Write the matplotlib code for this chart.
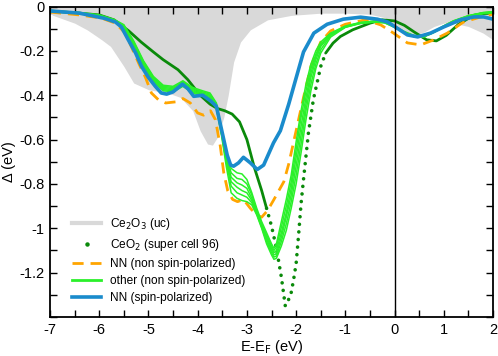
import matplotlib
matplotlib.use('Agg')
import matplotlib.pyplot as plt
from matplotlib.lines import Line2D
from matplotlib.ticker import MultipleLocator, FuncFormatter

plt.rcParams['font.family'] = ['Liberation Sans', 'DejaVu Sans']
plt.rcParams['axes.unicode_minus'] = False

# Ce2O3 (uc) - grey filled area
gray_x = [-7.0, -6.94, -6.5, -6.24, -5.95, -5.77, -5.5, -5.3, -5.0, -4.6, -4.35, -4.1, -3.95,
          -3.8, -3.7, -3.6, -3.47, -3.38, -3.27, -3.13, -2.93, -2.58, -2.1, -1.5, -1.0, -0.5,
          -0.2, 0.0, 0.2, 0.4, 0.6, 0.8, 1.0, 1.2, 1.5, 1.8, 2.0]
gray_y = [-0.03, -0.04, -0.075, -0.106, -0.15, -0.18, -0.27, -0.345, -0.375, -0.39, -0.41, -0.47,
          -0.56, -0.62, -0.625, -0.59, -0.50, -0.40, -0.25, -0.16, -0.105, -0.06, -0.04, -0.03,
          -0.03, -0.035, -0.05, -0.085, -0.115, -0.13, -0.115, -0.09, -0.075, -0.075, -0.09,
          -0.12, -0.15]

# CeO2 (super cell 96)
ce_x = [-7.0, -6.4, -6.0, -5.7, -5.4, -5.15, -4.9, -4.7, -4.4, -4.2, -3.95, -3.75, -3.6, -3.45,
        -3.3, -3.15, -3.0, -2.85, -2.7, -2.6, -2.5, -2.4, -2.3, -2.22, -2.15, -2.1, -2.05, -2.0,
        -1.95, -1.9, -1.85, -1.75, -1.65, -1.5, -1.4, -1.25, -1.1, -0.85, -0.5, -0.25, 0.0, 0.2,
        0.4, 0.65, 0.85, 1.05, 1.3, 1.6, 1.8, 2.0]
ce_y = [-0.02, -0.03, -0.038, -0.06, -0.11, -0.16, -0.205, -0.24, -0.285, -0.33, -0.40, -0.44,
        -0.46, -0.47, -0.485, -0.52, -0.60, -0.725, -0.83, -0.91, -0.99, -1.09, -1.22, -1.35,
        -1.32, -1.29, -1.23, -1.16, -1.03, -0.89, -0.78, -0.57, -0.42, -0.27, -0.21, -0.165,
        -0.135, -0.105, -0.075, -0.06, -0.065, -0.085, -0.115, -0.15, -0.155, -0.13, -0.08,
        -0.04, -0.032, -0.03]

# NN (non spin-polarized)
nn_x = [-7.0, -6.4, -5.96, -5.67, -5.47, -5.35, -5.2, -5.06, -4.94, -4.8, -4.65, -4.45, -4.3,
        -4.15, -4.0, -3.88, -3.74, -3.64, -3.54, -3.47, -3.39, -3.29, -3.19, -3.07, -2.93, -2.8,
        -2.7, -2.58, -2.45, -2.35, -2.25, -2.15, -2.0, -1.85, -1.7, -1.5, -1.3, -1.0, -0.6,
        -0.28, -0.02, 0.26, 0.53, 0.8, 1.07, 1.4, 1.75, 2.0]
nn_y = [-0.025, -0.038, -0.052, -0.075, -0.12, -0.18, -0.255, -0.32, -0.39, -0.42, -0.435,
        -0.43, -0.415, -0.435, -0.48, -0.49, -0.47, -0.51, -0.63, -0.75, -0.83, -0.87, -0.88,
        -0.87, -0.91, -0.94, -0.95, -0.92, -0.87, -0.83, -0.79, -0.71, -0.56, -0.41, -0.27,
        -0.16, -0.11, -0.08, -0.06, -0.083, -0.12, -0.164, -0.173, -0.15, -0.12, -0.07,
        -0.047, -0.034]

# other (non spin-polarized): several configurations on one grid
other_x = [-7.0, -6.4, -6.0, -5.7, -5.5, -5.3, -5.1, -4.9, -4.7, -4.5, -4.3, -4.1, -3.9, -3.75,
           -3.62, -3.52, -3.42, -3.32, -3.2, -3.1, -3.0, -2.9, -2.8, -2.7, -2.6, -2.5, -2.45,
           -2.4, -2.3, -2.2, -2.1, -2.0, -1.9, -1.8, -1.7, -1.6, -1.5, -1.3, -1.0, -0.7, -0.4,
           -0.2, 0.0, 0.2, 0.4, 0.6, 0.8, 1.0, 1.2, 1.5, 1.8, 2.0]
other_y = [
    [-0.02, -0.027, -0.038, -0.058, -0.082, -0.155, -0.245, -0.315, -0.355, -0.36, -0.335,
     -0.365, -0.38, -0.39, -0.435, -0.55, -0.66, -0.73, -0.75, -0.755, -0.78, -0.84, -0.91,
     -0.97, -1.02, -1.07, -1.09, -1.07, -0.97, -0.87, -0.76, -0.61, -0.47, -0.35, -0.26, -0.20,
     -0.16, -0.12, -0.088, -0.072, -0.065, -0.069, -0.088, -0.113, -0.131, -0.131, -0.112,
     -0.087, -0.064, -0.041, -0.027, -0.023],
    [-0.02, -0.028, -0.039, -0.06, -0.085, -0.16, -0.25, -0.32, -0.36, -0.365, -0.34, -0.37,
     -0.385, -0.395, -0.44, -0.555, -0.67, -0.75, -0.775, -0.78, -0.80, -0.85, -0.92, -0.98,
     -1.03, -1.08, -1.10, -1.085, -0.995, -0.90, -0.79, -0.645, -0.50, -0.38, -0.28, -0.215,
     -0.17, -0.122, -0.09, -0.073, -0.066, -0.07, -0.09, -0.115, -0.133, -0.133, -0.113,
     -0.088, -0.065, -0.042, -0.028, -0.024],
    [-0.021, -0.029, -0.04, -0.061, -0.087, -0.165, -0.255, -0.325, -0.365, -0.37, -0.345,
     -0.375, -0.39, -0.40, -0.445, -0.56, -0.68, -0.77, -0.795, -0.805, -0.82, -0.865, -0.925,
     -0.985, -1.04, -1.09, -1.11, -1.10, -1.02, -0.93, -0.82, -0.68, -0.54, -0.41, -0.30,
     -0.225, -0.175, -0.125, -0.091, -0.074, -0.067, -0.071, -0.091, -0.116, -0.134, -0.134,
     -0.114, -0.089, -0.066, -0.043, -0.029, -0.025],
    [-0.021, -0.03, -0.041, -0.063, -0.09, -0.17, -0.26, -0.33, -0.37, -0.375, -0.35, -0.38,
     -0.395, -0.405, -0.45, -0.565, -0.69, -0.79, -0.815, -0.83, -0.84, -0.875, -0.93, -0.99,
     -1.05, -1.10, -1.12, -1.115, -1.04, -0.95, -0.85, -0.72, -0.58, -0.44, -0.32, -0.24,
     -0.18, -0.128, -0.092, -0.075, -0.068, -0.072, -0.092, -0.117, -0.135, -0.135, -0.115,
     -0.09, -0.067, -0.044, -0.03, -0.026],
    [-0.022, -0.031, -0.042, -0.064, -0.092, -0.175, -0.265, -0.335, -0.375, -0.38, -0.355,
     -0.385, -0.40, -0.41, -0.455, -0.57, -0.70, -0.81, -0.84, -0.85, -0.86, -0.885, -0.935,
     -0.995, -1.06, -1.11, -1.13, -1.125, -1.06, -0.98, -0.88, -0.76, -0.62, -0.47, -0.35,
     -0.26, -0.195, -0.131, -0.093, -0.076, -0.069, -0.073, -0.093, -0.118, -0.136, -0.136,
     -0.116, -0.091, -0.068, -0.045, -0.031, -0.027],
    [-0.022, -0.032, -0.043, -0.065, -0.095, -0.18, -0.27, -0.34, -0.38, -0.385, -0.36, -0.39,
     -0.405, -0.415, -0.46, -0.575, -0.72, -0.84, -0.865, -0.875, -0.88, -0.895, -0.94, -1.00,
     -1.07, -1.12, -1.14, -1.135, -1.08, -1.01, -0.91, -0.80, -0.66, -0.51, -0.38, -0.28,
     -0.21, -0.138, -0.094, -0.077, -0.07, -0.074, -0.094, -0.119, -0.137, -0.137, -0.117,
     -0.092, -0.069, -0.046, -0.032, -0.028],
]

# NN (spin-polarized)
sp_x = [-7.0, -6.4, -5.9, -5.67, -5.55, -5.41, -5.26, -5.14, -5.0, -4.86, -4.74, -4.63, -4.5,
        -4.31, -4.2, -4.08, -3.9, -3.74, -3.62, -3.55, -3.47, -3.4, -3.33, -3.27, -3.17, -3.07,
        -2.93, -2.79, -2.66, -2.55, -2.46, -2.32, -2.15, -2.01, -1.85, -1.64, -1.37, -1.04,
        -0.69, -0.35, -0.14, 0.0, 0.26, 0.47, 0.73, 1.0, 1.34, 1.61, 1.81, 2.0]
sp_y = [-0.02, -0.03, -0.053, -0.07, -0.092, -0.15, -0.21, -0.27, -0.32, -0.36, -0.39, -0.395,
        -0.385, -0.35, -0.37, -0.405, -0.40, -0.425, -0.45, -0.52, -0.60, -0.67, -0.715, -0.72,
        -0.705, -0.68, -0.705, -0.735, -0.715, -0.66, -0.615, -0.56, -0.44, -0.33, -0.205,
        -0.12, -0.08, -0.057, -0.048, -0.057, -0.07, -0.09, -0.128, -0.137, -0.12, -0.092,
        -0.06, -0.047, -0.047, -0.057]

xticks = [-7, -6, -5, -4, -3, -2, -1, 0, 1, 2]

c_gray = '#d9d9d9'
c_ce = '#0a8a0a'
c_nn = '#ffa500'
c_other = '#2af02a'
c_sp = '#1a8bcc'

fig = plt.figure(figsize=(4.98, 3.56), dpi=100)
ax = fig.add_axes([0.1004, 0.1096, 0.8896, 0.8721])

ax.fill_between(gray_x, gray_y, 0, color=c_gray, lw=0, zorder=1)

# CeO2: dense points look solid where flat, dotted where steep
k1 = ce_x.index(-2.6)
k2 = ce_x.index(-1.4)
ax.plot(ce_x[:k1 + 1], ce_y[:k1 + 1], color=c_ce, lw=2, zorder=2, solid_capstyle='round')
ax.plot(ce_x[k1:k2 + 1], ce_y[k1:k2 + 1], color=c_ce, lw=2.6, ls=(0, (0.01, 2.1)),
        dash_capstyle='round', zorder=2)
ax.plot(ce_x[k2:], ce_y[k2:], color=c_ce, lw=2, zorder=2, solid_capstyle='round')

ax.plot(nn_x, nn_y, color=c_nn, lw=2, ls=(0, (4, 2.5)), zorder=3)
for row in other_y:
    ax.plot(other_x, row, color=c_other, lw=1.1, zorder=4)
ax.plot(sp_x, sp_y, color=c_sp, lw=2.6, zorder=5)

ax.axvline(0, color='black', lw=1, zorder=6)

ax.set_xlim(-7, 2)
ax.set_ylim(-1.4, 0)
ax.set_xticks(xticks)
ax.xaxis.set_minor_locator(MultipleLocator(0.5))
ax.set_yticks([0, -0.2, -0.4, -0.6, -0.8, -1.0, -1.2])
ax.yaxis.set_minor_locator(MultipleLocator(0.1))
ax.yaxis.set_major_formatter(FuncFormatter(lambda v, p: '%g' % round(v, 2)))
ax.tick_params(which='both', direction='in', top=True, right=True, length=5, width=1,
               labelsize=10.5, pad=4)
for s in ax.spines.values():
    s.set_linewidth(1.3)
    s.set_zorder(7)

ax.set_xlabel('E-E$_\\mathrm{F}$ (eV)', fontsize=10.5, labelpad=1)
ax.set_ylabel('\u0394 (eV)', fontsize=10.5, labelpad=2)

handles = [
    Line2D([], [], color=c_gray, lw=3),
    Line2D([], [], color=c_ce, ls='none', marker='o', ms=2.2),
    Line2D([], [], color=c_nn, lw=2, ls=(0, (4, 2.5))),
    Line2D([], [], color=c_other, lw=2),
    Line2D([], [], color=c_sp, lw=2.6),
]
labels = ['Ce$_2$O$_3$ (uc)', 'CeO$_2$ (super cell 96)', 'NN (non spin-polarized)',
          'other (non spin-polarized)', 'NN (spin-polarized)']
ax.legend(handles, labels, loc='upper left', bbox_to_anchor=(0.04, 0.34), frameon=False,
          fontsize=8.6, handlelength=2.4, handletextpad=0.7, labelspacing=0.42,
          borderaxespad=0)

fig.savefig('out.png', dpi=100)
